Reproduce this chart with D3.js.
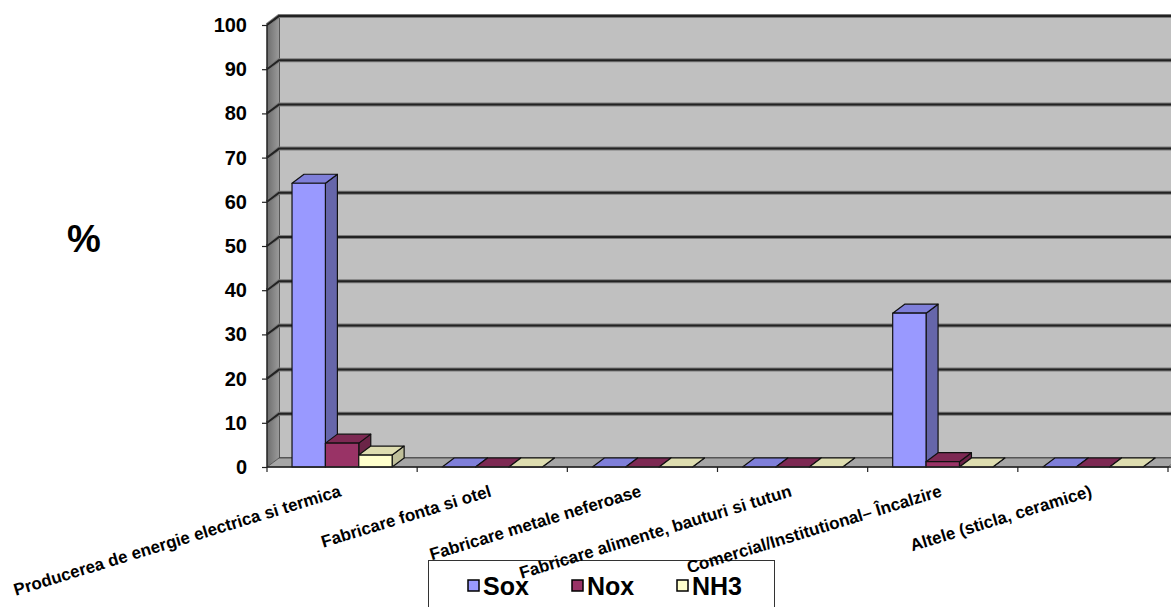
<!DOCTYPE html>
<html><head><meta charset="utf-8">
<script src="https://cdn.jsdelivr.net/npm/d3@7/dist/d3.min.js"></script>
<style>html,body{margin:0;padding:0;background:#fff;overflow:hidden}svg{display:block}</style>
</head><body>
<svg id="c" width="1171" height="607"></svg>
<script>
const categories = [
  "Producerea de energie electrica si termica",
  "Fabricare fonta si otel",
  "Fabricare metale neferoase",
  "Fabricare alimente, bauturi si tutun",
  "Comercial/Institutional– Încalzire",
  "Altele (sticla, ceramice)"
];
const seriesNames = ["Sox", "Nox", "NH3"];
const soxValues = [64.2, 0, 0, 0, 34.8, 0];
const noxValues = [5.4, 0, 0, 0, 1.2, 0];
const nh3Values = [2.7, 0, 0, 0, 0, 0];
const yTicks = [0, 10, 20, 30, 40, 50, 60, 70, 80, 90, 100];

const colors = {
  Sox: {front: "#9999ff", side: "#6666aa", top: "#7f7fd9"},
  Nox: {front: "#993366", side: "#6b2447", top: "#7d2953"},
  NH3: {front: "#ffffcc", side: "#bfbf99", top: "#deddb0"}
};
const seriesData = {Sox: soxValues, Nox: noxValues, NH3: nh3Values};

(function () {
const W = 1171, H = 607;
const svg = d3.select("#c");
const FONT = "'Liberation Sans', Arial, sans-serif";
svg.append("rect").attr("width", W).attr("height", H).attr("fill", "#fff");

const pL = 267, pR = 1168, pB = 467, pT = 25;
const dx = 12, dy = -9;
const y = d3.scaleLinear().domain([0, 100]).range([pB, pT]);
const x = d3.scaleBand().domain(categories).range([pL, pR]);
const xs = d3.scaleBand().domain(seriesNames).range([0, x.bandwidth()]).paddingInner(0).paddingOuter(0.75);

// back wall
svg.append("rect").attr("x", pL + dx).attr("y", pT + dy).attr("width", W).attr("height", pB - pT)
  .attr("fill", "#c0c0c0").attr("stroke", "#333").attr("stroke-width", 1.5);
// side wall
const sg = svg.append("defs").append("linearGradient").attr("id", "sw").attr("x1", 0).attr("x2", 1).attr("y1", 0).attr("y2", 0);
sg.append("stop").attr("offset", 0).attr("stop-color", "#6e6e6e");
sg.append("stop").attr("offset", 1).attr("stop-color", "#9a9a9a");
svg.append("path")
  .attr("d", `M${pL},${pT}L${pL + dx},${pT + dy}L${pL + dx},${pB + dy}L${pL},${pB}Z`)
  .attr("fill", "url(#sw)");

// gridlines
yTicks.filter(t => t > 0).forEach(t => {
  const yy = y(t);
  const d = `M${pL},${yy}L${pL + dx},${yy + dy}L${W + 5},${yy + dy}`;
  svg.append("path").attr("d", d).attr("fill", "none").attr("stroke", "#7a7a7a").attr("stroke-width", 4);
  svg.append("path").attr("d", d).attr("fill", "none").attr("stroke", "#222").attr("stroke-width", 2);
});

// floor
svg.append("path")
  .attr("d", `M${pL},${pB}L${pL + dx},${pB + dy}L${pR + dx},${pB + dy}L${pR},${pB}Z`)
  .attr("fill", "#a6a6a6").attr("stroke", "#555").attr("stroke-width", 1);

// bars
categories.forEach((c, i) => {
  seriesNames.forEach(s => {
    const v = seriesData[s][i];
    const bx = x(c) + xs(s), bw = xs.bandwidth();
    const by = y(v);
    const col = colors[s];
    const g = svg.append("g").attr("stroke", "#111").attr("stroke-width", 1.2).attr("stroke-linejoin", "round");
    g.append("path").attr("d", `M${bx + bw},${pB}L${bx + bw + dx},${pB + dy}L${bx + bw + dx},${by + dy}L${bx + bw},${by}Z`).attr("fill", col.side);
    g.append("path").attr("d", `M${bx},${by}L${bx + dx},${by + dy}L${bx + bw + dx},${by + dy}L${bx + bw},${by}Z`).attr("fill", col.top);
    if (v > 0) g.append("rect").attr("x", bx).attr("y", by).attr("width", bw).attr("height", pB - by).attr("fill", col.front);
  });
});

// axis lines
svg.append("line").attr("x1", pL).attr("x2", pL).attr("y1", pT).attr("y2", pB).attr("stroke", "#222").attr("stroke-width", 1.5);
svg.append("line").attr("x1", pL).attr("x2", pL + dx).attr("y1", pT).attr("y2", pT + dy).attr("stroke", "#222").attr("stroke-width", 1.5);
svg.append("line").attr("x1", pL).attr("x2", W).attr("y1", pB).attr("y2", pB).attr("stroke", "#222").attr("stroke-width", 1.5);

// y axis
const yAxis = d3.axisLeft(y).tickValues(yTicks).tickSize(5).tickPadding(15);
const ya = svg.append("g").attr("transform", `translate(${pL},0)`).call(yAxis);
ya.select(".domain").remove();
ya.selectAll(".tick line").attr("stroke", "#222").attr("stroke-width", 1.2);
ya.selectAll(".tick text").attr("font-family", FONT).attr("font-weight", "bold").attr("font-size", 20).attr("fill", "#000");

// x ticks
categories.map(c => x(c)).concat([pR]).forEach(p => {
  svg.append("line").attr("x1", p).attr("x2", p).attr("y1", pB).attr("y2", pB + 5).attr("stroke", "#222").attr("stroke-width", 1.2);
});

// legend box (under labels)
svg.append("rect").attr("x", 428.5).attr("y", 560.5).attr("width", 346).attr("height", 60)
  .attr("fill", "#fff").attr("stroke", "#333").attr("stroke-width", 1);

// x labels
categories.forEach(c => {
  const cx = x(c) + x.bandwidth() / 2;
  svg.append("text").attr("transform", `translate(${cx},496) rotate(-17)`)
    .attr("text-anchor", "end").attr("font-family", FONT).attr("font-weight", "bold").attr("font-size", 17)
    .attr("fill", "#000").text(c);
});

// y title
svg.append("text").attr("x", 84).attr("y", 252).attr("text-anchor", "middle")
  .attr("font-family", FONT).attr("font-weight", "bold").attr("font-size", 38).text("%");

// legend items
const legX = [468, 572, 677];
seriesNames.forEach((s, i) => {
  svg.append("rect").attr("x", legX[i]).attr("y", 580).attr("width", 11).attr("height", 11)
    .attr("fill", colors[s].front).attr("stroke", "#000").attr("stroke-width", 1.5);
  svg.append("text").attr("x", legX[i] + 15).attr("y", 595).attr("font-family", FONT).attr("font-weight", "bold")
    .attr("font-size", 25).attr("fill", "#000").text(s);
});
})();
</script>
</body></html>
